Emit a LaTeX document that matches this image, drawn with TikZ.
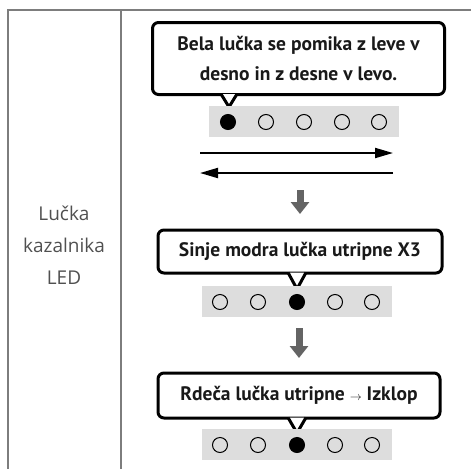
\documentclass[tikz,border=0pt]{standalone}
\usepackage{fontspec}
\setmainfont{PT Sans}
\newfontfamily\labelfont{Open Sans}
\usepackage{xcolor}
\usetikzlibrary{
    arrows.meta,
    positioning,
    calc
}
\definecolor{ledgray}{RGB}{221,221,221}
\definecolor{rulegray}{RGB}{125,125,125}
\definecolor{darkarrow}{RGB}{100,100,100}
\definecolor{labeltext}{RGB}{80,80,80}

\begin{document}
\begin{tikzpicture}[
    x=1pt, y=-1pt,
    callout/.style={
        rectangle,
        draw,
        line width=3pt,
        rounded corners=6pt,
        fill=white,
        align=center,
        inner sep=0pt,
        font=\bfseries\fontsize{19.5}{30}\selectfont,
        text=black!90
    },
    pointer/.style={draw, fill=white, line width=3pt, line join=miter},
    strip/.style={
        rectangle,
        fill=ledgray,
        minimum width=190pt,
        minimum height=31pt,
        inner sep=0pt
    },
    ledoff/.style={circle, draw, line width=1pt, minimum size=15pt, inner sep=0pt},
    ledon/.style={ledoff, fill=black},
    moving/.style={line width=2pt, -{Triangle[length=18pt, width=10pt]}},
    downarrow/.style={line width=7pt, darkarrow, -{Triangle[length=12pt, width=18pt]}},
    rule/.style={rulegray, line width=1.3pt}
]
\useasboundingbox (0,0) rectangle (471,469);

% ============================================================
% TABLA
% ============================================================
\draw[rule] (471,10) -- (8,10) -- (8,469);
\draw[rule] (121,10) -- (121,469);

\node[font=\labelfont\fontsize{19}{32}\selectfont, text=labeltext, align=center] (lbl) at (64,245) {Lučka\\kazalnika\\LED};

% ============================================================
% PASO 1
% ============================================================
\node[callout, minimum width=292pt, minimum height=72pt] (call1) at (298.5,58.5) {Bela lučka se pomika z leve v\\desno in z desne v levo.};
\coordinate (tip1) at (229,107);
\draw[pointer] ($(call1.south -| tip1)+(-8,-2)$) -- (tip1) -- ($(call1.south -| tip1)+(8,-2)$);

\node[strip] (strip1) at (304,121.5) {};
\node[ledon]  (l1a) at (228,122) {};
\node[ledoff] (l1b) at (266,122) {};
\node[ledoff] (l1c) at (304,122) {};
\node[ledoff] (l1d) at (342,122) {};
\node[ledoff] (l1e) at (379,122) {};

\coordinate (mvA) at (200,153);
\coordinate (mvB) at (393,153);
\coordinate (mvC) at (393,173);
\coordinate (mvD) at (200,173);
\draw[moving] (mvA) -- (mvB);
\draw[moving] (mvC) -- (mvD);

\coordinate (dn1a) at (300,190);
\coordinate (dn1b) at (300,214);
\draw[downarrow] (dn1a) -- (dn1b);

% ============================================================
% PASO 2
% ============================================================
\node[callout, minimum width=284pt, minimum height=43pt] (call2) at (300,251.5) {Sinje modra lučka utripne X3};
\coordinate (tip2) at (297,289);
\draw[pointer] ($(call2.south -| tip2)+(-9,-2)$) -- (tip2) -- ($(call2.south -| tip2)+(9,-2)$);

\node[strip] (strip2) at (297,301) {};
\node[ledoff] (l2a) at (220,302) {};
\node[ledoff] (l2b) at (258,302) {};
\node[ledon]  (l2c) at (297,302) {};
\node[ledoff] (l2d) at (335,302) {};
\node[ledoff] (l2e) at (372,302) {};

\coordinate (dn2a) at (299,328);
\coordinate (dn2b) at (299,358);
\draw[downarrow] (dn2a) -- (dn2b);

% ============================================================
% PASO 3
% ============================================================
\node[callout, minimum width=282pt, minimum height=45pt] (call3) at (299,395.5) {Rdeča lučka utripne {\mdseries\fontsize{12}{12}\selectfont$\rightarrow$} Izklop};
\coordinate (tip3) at (297,433);
\draw[pointer] ($(call3.south -| tip3)+(-9,-2)$) -- (tip3) -- ($(call3.south -| tip3)+(9,-2)$);

\node[strip] (strip3) at (297,444) {};
\node[ledoff] (l3a) at (220,445) {};
\node[ledoff] (l3b) at (258,445) {};
\node[ledon]  (l3c) at (297,445) {};
\node[ledoff] (l3d) at (335,445) {};
\node[ledoff] (l3e) at (372,445) {};

\end{tikzpicture}
\end{document}
